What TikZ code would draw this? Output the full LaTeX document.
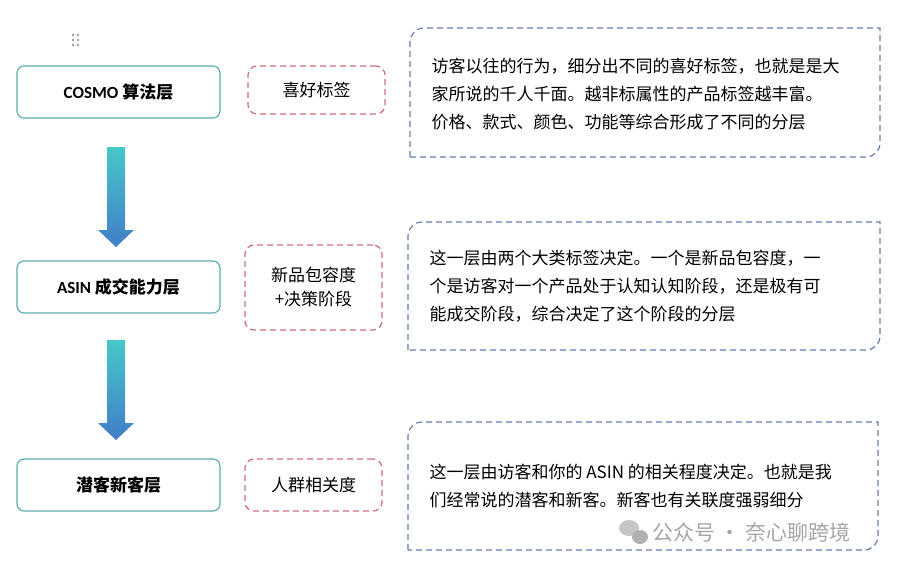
\documentclass[tikz,border=0pt]{standalone}
\usepackage{fontspec}
\setmainfont{Carlito}
\newfontfamily\cjk{Noto Sans CJK SC}
\definecolor{tealb}{RGB}{95,175,175}
\definecolor{descb}{RGB}{105,125,175}
\definecolor{pinkd}{RGB}{205,110,125}
\definecolor{atop}{RGB}{70,200,200}
\definecolor{abot}{RGB}{65,125,200}
\begin{document}
\begin{tikzpicture}[x=1pt,y=-1pt,
  layer/.style={draw=tealb,line width=1.2pt,rounded corners=7pt,minimum width=203pt,minimum height=52pt,font=\bfseries\fontsize{17}{20}\selectfont},
  tag/.style={draw=pinkd,dash pattern=on 6pt off 4pt,line width=1.2pt,rounded corners=9pt,font=\cjk\fontsize{17}{24}\selectfont,align=center},
  desc/.style={draw=descb,dash pattern=on 6pt off 4pt,line width=1.2pt},
  txt/.style={anchor=west,font=\cjk\fontsize{17}{28}\selectfont,align=left},
  shaft/.style={top color=atop,bottom color=abot}]
\useasboundingbox (0,0) rectangle (913,568);
\fill[white] (0,0) rectangle (913,568);
\foreach \yy in {35,40,45}{\fill[gray] (73,\yy) circle (1.2); \fill[gray] (78,\yy) circle (1.2);}
\node[layer] (l1) at (118.5,92) {COSMO {\cjk 算法层}};
\node[layer] (l2) at (118.5,287) {ASIN {\cjk 成交能力层}};
\node[layer] (l3) at (118.5,485) {{\cjk 潜客新客层}};
\node[tag,minimum width=137pt,minimum height=48pt] (t1) at (316.5,90) {喜好标签};
\node[tag,minimum width=137pt,minimum height=85pt] (t2) at (313.5,287.5) {新品包容度\\+决策阶段};
\node[tag,minimum width=137pt,minimum height=52pt] (t3) at (313.5,485) {人群相关度};
\foreach \a/\b in {147/247,340/440}{
  \shade[shaft] (107,\a) -- (125,\a) -- (125,\b-17) -- (134,\b-17) -- (116,\b) -- (98,\b-17) -- (107,\b-17) -- cycle;}
\foreach \xa/\ya/\xb/\yb in {410/28/880/157,408/222/880/350,408/422/878/550}{
  \draw[desc] (\xa,\yb) [rounded corners=14pt] -- (\xa,\ya) [sharp corners] -- (\xb,\ya) [rounded corners=14pt] -- (\xb,\yb) [sharp corners] -- cycle;}
\node[txt] (d1) at (428,94) {访客以往的行为，细分出不同的喜好标签，也就是是大\\家所说的千人千面。越非标属性的产品标签越丰富。\\价格、款式、颜色、功能等综合形成了不同的分层};
\node[txt] (d2) at (426,286) {这一层由两个大类标签决定。一个是新品包容度，一\\个是访客对一个产品处于认知认知阶段，还是极有可\\能成交阶段，综合决定了这个阶段的分层};
\node[txt] (d3) at (426,486) {这一层由访客和你的 ASIN 的相关程度决定。也就是我\\们经常说的潜客和新客。新客也有关联度强弱细分};
\node[anchor=west,text=gray!70,font=\cjk\fontsize{21}{24}\selectfont,inner sep=0pt] (w) at (652,532) {公众号 · 奈心聊跨境};
\fill[gray!45] (629,528) ellipse (10 and 8);
\fill[gray!60] (640,537) ellipse (8 and 7);
\end{tikzpicture}
\end{document}
